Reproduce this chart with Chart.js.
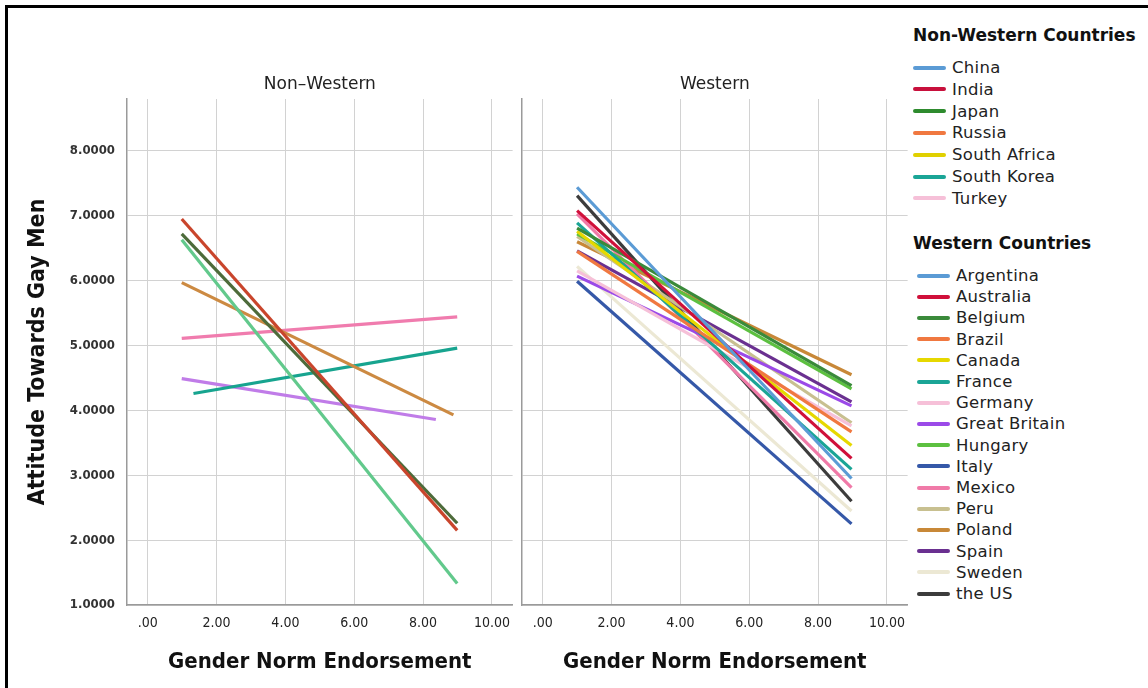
<!DOCTYPE html>
<html>
<head>
<meta charset="utf-8">
<script src="https://cdn.jsdelivr.net/npm/chart.js@4/dist/chart.umd.min.js"></script>
<style>
  body { margin: 0; width: 1148px; height: 688px; background: #fff; position: relative; overflow: hidden; }
  .frame { position: absolute; left: 5px; top: 5px; width: 1160px; height: 700px;
           border-left: 3px solid #000; border-top: 3px solid #000; }
  .panel { position: absolute; top: 60px; height: 625px; }
  #leftBox { left: 10px; width: 503px; }
  #rightBox { left: 520px; width: 388px; }
  .legend { position: absolute; font-family: "DejaVu Sans", sans-serif; color: #222; }
  .legend .head { position: absolute; left: 0; font-weight: bold; font-size: 17px; white-space: nowrap; color: #111; }
  .legend .item { position: absolute; left: 0; height: 22px; line-height: 22px; font-size: 16.5px; letter-spacing: 0.3px; white-space: nowrap; }
  .legend .sw { display: inline-block; width: 33px; height: 4px; vertical-align: middle; margin-right: 6px; position: relative; top: -1px; border-radius: 2px; }
</style>
</head>
<body>
<div class="frame"></div>
<div class="panel" id="leftBox"><canvas id="leftChart"></canvas></div>
<div class="panel" id="rightBox"><canvas id="rightChart"></canvas></div>
<div class="legend" id="legend" style="left:913px; top:0;"></div>

<script>
// ---- data ----
const xTicks = [0, 2, 4, 6, 8, 10];
const yTicks = [1, 2, 3, 4, 5, 6, 7, 8];

// Non-Western panel: 7 fitted lines (start / end)
const nwStartX = [0.99, 0.99, 0.99, 0.99, 0.99, 1.33, 0.99];
const nwStartY = [6.95, 6.72, 6.63, 5.97, 5.11, 4.26, 4.49];
const nwEndX   = [8.99, 8.99, 8.99, 8.88, 8.99, 8.99, 8.37];
const nwEndY   = [2.15, 2.26, 1.33, 3.93, 5.44, 4.96, 3.86];
const nwLineColors = ['#c9452c', '#4d6b3a', '#62c98c', '#cc8a42', '#f07cae', '#17a48f', '#c07ce8'];

const nonWesternNames = ['China', 'India', 'Japan', 'Russia', 'South Africa', 'South Korea', 'Turkey'];
const nonWesternColors = ['#5b9bd5', '#c8103c', '#2e8b2e', '#f07840', '#e0d000', '#1aa596', '#f6c0d8'];

// Western panel: 16 fitted lines
const westernNames = ['Argentina', 'Australia', 'Belgium', 'Brazil', 'Canada', 'France', 'Germany',
  'Great Britain', 'Hungary', 'Italy', 'Mexico', 'Peru', 'Poland', 'Spain', 'Sweden', 'the US'];
const westernColors = ['#5b9bd5', '#d0103a', '#3a8a3a', '#f07840', '#e6d800', '#1aa596', '#f6c0d8',
  '#9b4ae8', '#5cc040', '#3558a8', '#f07aa8', '#c8c090', '#c88838', '#6a3090', '#ece8d4', '#3c3c3c'];
const wStartX = 1.0;
const wEndX = 8.97;
const wStartY = [7.44, 7.08, 6.81, 6.45, 6.76, 6.89, 6.15, 6.07, 6.72, 5.99, 7.03, 6.68, 6.60, 6.46, 6.22, 7.31];
const wEndY   = [2.95, 3.26, 4.38, 3.67, 3.46, 3.09, 3.76, 4.07, 4.33, 2.25, 2.81, 3.81, 4.55, 4.13, 2.45, 2.60];

const condensed = '"DejaVu Sans Condensed", "DejaVu Sans", sans-serif';
const gridColor = '#d2d2d2';
const axisColor = '#9a9a9a';

// panel title centred over the plot area (not the whole canvas)
const panelTitle = {
    id: 'panelTitle',
    afterDraw(chart, args, opts) {
        const { ctx, chartArea } = chart;
        ctx.save();
        ctx.font = '17px "DejaVu Sans", sans-serif';
        ctx.fillStyle = '#222';
        ctx.textAlign = 'center';
        ctx.textBaseline = 'middle';
        ctx.fillText(opts.text, (chartArea.left + chartArea.right) / 2, chartArea.top - 14);
        ctx.restore();
    }
};

function makeOptions(title, showY) {
    return {
        responsive: true,
        maintainAspectRatio: false,
        animation: false,
        layout: { padding: { top: 39 } },
        plugins: {
            legend: { display: false },
            tooltip: { enabled: false },
            panelTitle: { text: title }
        },
        scales: {
            x: {
                type: 'linear',
                min: -0.6,
                max: 10.6,
                afterBuildTicks: s => { s.ticks = xTicks.map(v => ({ value: v })); },
                afterFit: s => { s.height = 80; },
                ticks: {
                    color: '#222',
                    padding: 3,
                    maxRotation: 0,
                    font: { family: condensed, size: 14 },
                    callback: v => v === 0 ? '.00' : v.toFixed(2)
                },
                grid: { color: gridColor, drawTicks: true, tickLength: 7, tickColor: 'rgba(0,0,0,0)' },
                border: { color: axisColor, width: 1.5 },
                title: {
                    display: true,
                    text: 'Gender Norm Endorsement',
                    color: '#111',
                    font: { family: condensed, size: 22, weight: 'bold' },
                    padding: { top: 0, bottom: 10 }
                }
            },
            y: {
                min: 1,
                max: 8.8,
                afterBuildTicks: s => { s.ticks = yTicks.map(v => ({ value: v })); },
                afterFit: s => { s.width = showY ? 117 : 2; },
                ticks: {
                    display: showY,
                    color: '#333',
                    padding: 12,
                    font: { family: condensed, size: 13, weight: 'bold' },
                    callback: v => v.toFixed(4)
                },
                grid: { color: gridColor, drawTicks: false },
                border: { color: axisColor, width: 1.5 },
                title: {
                    display: showY,
                    text: 'Attitude Towards Gay Men',
                    color: '#111',
                    font: { family: condensed, size: 23, weight: 'bold' },
                    padding: { top: 14 }
                }
            }
        }
    };
}

function lineSet(x0, y0, x1, y1, color) {
    return {
        data: [{ x: x0, y: y0 }, { x: x1, y: y1 }],
        borderColor: color,
        borderWidth: 3.2,
        pointRadius: 0,
        fill: false,
        tension: 0
    };
}

const nwSets = nwStartY.map((v, i) => lineSet(nwStartX[i], v, nwEndX[i], nwEndY[i], nwLineColors[i]));
const wSets = wStartY.map((v, i) => lineSet(wStartX, v, wEndX, wEndY[i], westernColors[i]));

new Chart(document.getElementById('leftChart').getContext('2d'), {
    type: 'line',
    data: { datasets: nwSets },
    options: makeOptions('Non\u2013Western', true),
    plugins: [panelTitle]
});

new Chart(document.getElementById('rightChart').getContext('2d'), {
    type: 'line',
    data: { datasets: wSets },
    options: makeOptions('Western', false),
    plugins: [panelTitle]
});

// ---- legend ----
const legend = document.getElementById('legend');

function addHead(text, cy) {
    const d = document.createElement('div');
    d.className = 'head';
    d.textContent = text;
    d.style.top = (cy - 11) + 'px';
    legend.appendChild(d);
}

function addItems(names, colors, firstY, step, left) {
    names.forEach((name, i) => {
        const d = document.createElement('div');
        d.className = 'item';
        d.style.top = (firstY + i * step - 11) + 'px';
        d.style.left = left + 'px';
        d.innerHTML = `<span class="sw" style="background:${colors[i]}"></span>${name}`;
        legend.appendChild(d);
    });
}

addHead('Non-Western Countries', 36);
addItems(nonWesternNames, nonWesternColors, 68, 21.8, 0);
addHead('Western Countries', 244);
addItems(westernNames, westernColors, 276, 21.2, 4);
</script>
</body>
</html>
